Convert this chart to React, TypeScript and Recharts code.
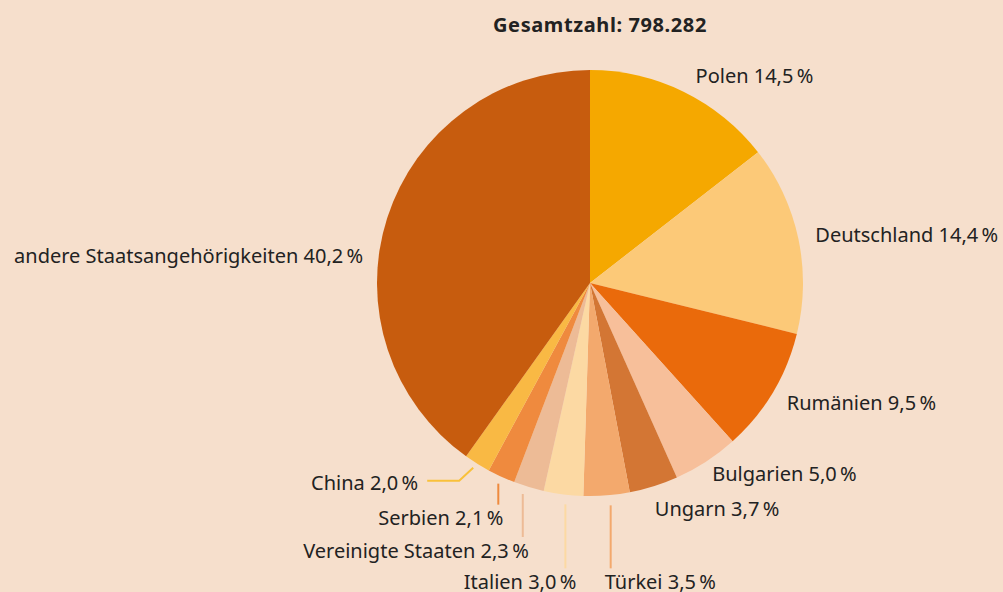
import { PieChart, Pie, Cell } from 'recharts'

const COUNTRIES = ['Polen', 'Deutschland', 'Rumänien', 'Bulgarien', 'Ungarn', 'Türkei', 'Italien', 'Vereinigte Staaten', 'Serbien', 'China', 'andere Staatsangehörigkeiten']
const SHARES = [14.5, 14.4, 9.5, 5.0, 3.7, 3.5, 3.0, 2.3, 2.1, 2.0, 40.2]
const SHARE_LABELS = ['14,5', '14,4', '9,5', '5,0', '3,7', '3,5', '3,0', '2,3', '2,1', '2,0', '40,2']
const TOTAL_LABEL = '798.282'

const COLORS = ['#f5a800', '#fcc978', '#ea6a0b', '#f7bf9a', '#d37634', '#f3a96d', '#fcd9a3', '#edbb96', '#ef8a3e', '#f9b944', '#c75c0e']
const LINE_COLORS: Record<string, string> = {
  'Türkei': '#f3a96d',
  'Italien': '#fcd9a3',
  'Vereinigte Staaten': '#edbb96',
  'Serbien': '#ef8a3e',
  'China': '#f9c13a',
}

// label placement relative to the point on the arc at the slice's mid angle
type Layout = { dx: number; dy: number; anchor: 'start' | 'end'; line?: 'v' | 'elbow'; lx?: number; gap?: number }
const LAYOUT: Record<string, Layout> = {
  'Polen': { dx: 12, dy: -16, anchor: 'start' },
  'Deutschland': { dx: 17, dy: -4, anchor: 'start' },
  'Rumänien': { dx: 14, dy: 10, anchor: 'start' },
  'Bulgarien': { dx: 6, dy: 12, anchor: 'start' },
  'Ungarn': { dx: 1, dy: 22, anchor: 'start' },
  'Türkei': { dx: -2, dy: 86, anchor: 'start', line: 'v', lx: 4, gap: 10 },
  'Italien': { dx: 13, dy: 87, anchor: 'end', line: 'v', lx: 2, gap: 10 },
  'Vereinigte Staaten': { dx: 0, dy: 63, anchor: 'end', line: 'v', lx: -6, gap: 7 },
  'Serbien': { dx: 2, dy: 41, anchor: 'end', line: 'v', lx: -3, gap: 7 },
  'China': { dx: -59, dy: 19, anchor: 'end', line: 'elbow' },
  'andere Staatsangehörigkeiten': { dx: -24, dy: 38, anchor: 'end' },
}

const data = COUNTRIES.map((name, i) => ({ name, value: SHARES[i], label: SHARE_LABELS[i] }))

const RAD = Math.PI / 180
const FONT = '"Noto Sans", sans-serif'

const renderLabel = (props: any) => {
  const { cx, cy, midAngle, outerRadius, index } = props
  const d = data[index]
  const lay = LAYOUT[d.name]
  const px = cx + outerRadius * Math.cos(-midAngle * RAD)
  const py = cy + outerRadius * Math.sin(-midAngle * RAD)
  const tx = px + lay.dx
  const ty = py + lay.dy
  const lc = LINE_COLORS[d.name]
  return (
    <g key={d.name}>
      {lay.line === 'v' && (
        <line x1={px + (lay.lx ?? 0)} y1={py + (lay.gap ?? 8)} x2={px + (lay.lx ?? 0)} y2={ty - 13} stroke={lc} strokeWidth={2} />
      )}
      {lay.line === 'elbow' && (
        <polyline points={`${px - 4},${py + 4} ${px - 18},${ty - 2} ${tx + 9},${ty - 2}`} fill="none" stroke={lc} strokeWidth={2} />
      )}
      <text x={tx} y={ty} textAnchor={lay.anchor} dominantBaseline="central" fill="#222" fontSize={20} fontFamily={FONT}>
        {`${d.name} ${d.label}\u2009%`}
      </text>
    </g>
  )
}

export default function App() {
  return (
    <div style={{ position: 'absolute', left: 0, top: 0, width: 1003, height: 592, background: '#f6dfcc', overflow: 'hidden' }}>
      <div style={{ position: 'absolute', left: 0, top: 11, width: 1200, textAlign: 'center', fontFamily: FONT, fontWeight: 700, fontSize: 20, color: '#222', letterSpacing: 0.6 }}>
        Gesamtzahl: {TOTAL_LABEL}
      </div>
      <PieChart width={1003} height={592} margin={{ top: 0, right: 0, bottom: 0, left: 0 }} style={{ position: 'absolute', left: 0, top: 0 }}>
        <Pie
          data={data}
          dataKey="value"
          nameKey="name"
          cx={590}
          cy={283}
          outerRadius={213}
          startAngle={90}
          endAngle={-270}
          stroke="none"
          label={renderLabel}
          labelLine={false}
          isAnimationActive={false}
        >
          {data.map((d, i) => (
            <Cell key={d.name} fill={COLORS[i]} />
          ))}
        </Pie>
      </PieChart>
    </div>
  )
}
